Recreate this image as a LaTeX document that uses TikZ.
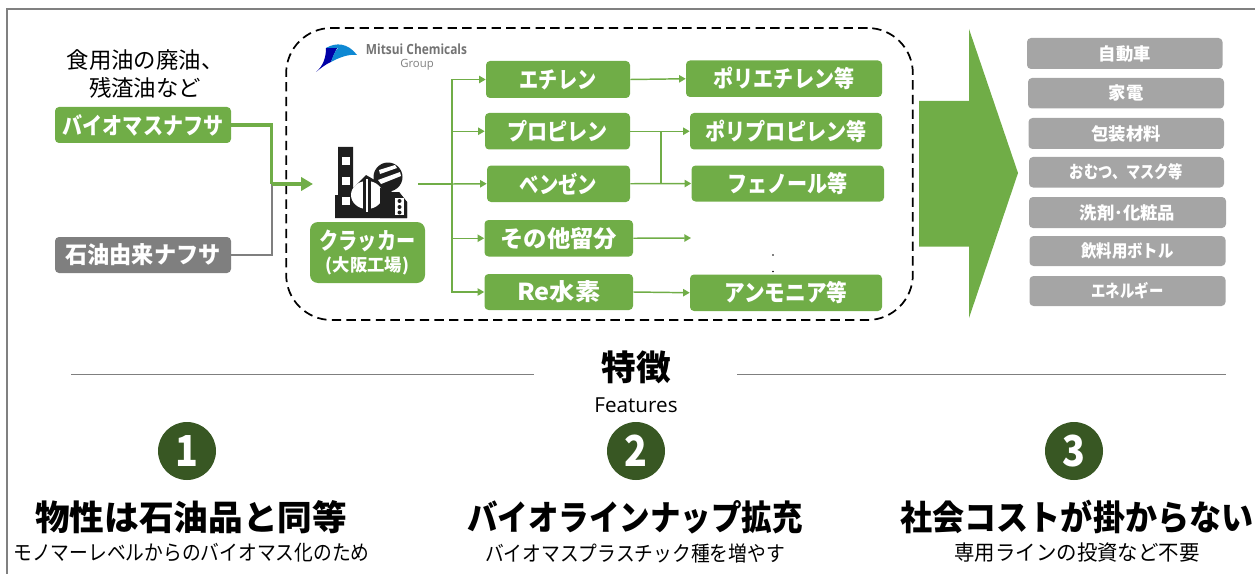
\documentclass[tikz,border=0pt]{standalone}
\usepackage{fontspec}
\setmainfont{Noto Sans CJK JP}
\newfontfamily\latinfont{Open Sans}
\usetikzlibrary{arrows.meta,shapes.geometric}
\definecolor{grn}{HTML}{70AD47}
\definecolor{dgrn}{HTML}{385723}
\definecolor{gry}{HTML}{7F7F7F}
\definecolor{lgry}{HTML}{A5A5A5}
\definecolor{ink}{HTML}{1E1E1E}
\newcommand{\sq}[2]{{\addfontfeature{FakeStretch=#1}#2}}
\newcommand{\pbox}[6]{\node[#1,minimum width={(#4-#3)*0.75pt},minimum height={(#6-#5)*0.75pt}] (#2) at ({(#3+#4)/2},{(#5+#6)/2})}
\tikzset{
  x=0.75pt,y=-0.75pt,
  gbox/.style={fill=grn,rounded corners=3pt,text=white,font=\bfseries\fontsize{17.5}{19}\selectfont,inner sep=0pt,align=center},
  gybox/.style={fill=lgry,rounded corners=3pt,text=white,font=\bfseries\fontsize{13}{14}\selectfont,inner sep=0pt},
  link/.style={draw=grn,line width=1.1pt,-{Triangle[length=5pt,width=5.5pt]}},
  plain/.style={draw=grn,line width=1.1pt},
  num/.style={circle,fill=dgrn,text=white,inner sep=0pt,minimum size=43.5pt,font=\bfseries\fontsize{32}{33}\selectfont},
  head/.style={font=\bfseries\fontsize{26}{28}\selectfont,inner sep=0pt},
  sub/.style={font=\fontsize{15.8}{18}\selectfont,inner sep=0pt},
  rule/.style={draw=gry,line width=0.8pt}
}
\begin{document}
\begin{tikzpicture}
\useasboundingbox (0,0) rectangle (1255,574);
% frame
\coordinate (fa) at (7,574); \coordinate (fb) at (7,9); \coordinate (fc) at (1255,9);
\draw[gray,line width=1.3pt] (fa) -- (fb) -- (fc);
% dashed group
\node[draw=black,line width=1.3pt,rounded corners=34pt,minimum width=470pt,minimum height=219pt,inner sep=0pt,dash pattern=on 7pt off 4pt] (grp) at (599.5,174) {};
% feedstock
\node[font=\fontsize{16.8}{21}\selectfont,align=center,inner sep=0pt] (oil) at (145,74) {食用油の廃油、\\残渣油など};
\pbox{gbox}{bio}{55}{231}{107}{143}{\sq{0.86}{バイオマスナフサ}};
\pbox{gbox,fill=gry}{oilb}{55}{231}{237}{273}{\sq{0.95}{石油由来ナフサ}};
\pbox{gbox,rounded corners=6pt}{crk}{310}{425}{222}{283}{\sq{0.82}{クラッカー}\\[-3pt]{\fontsize{13}{14}\selectfont (大阪工場)}};
% factory icon
\coordinate (ico) at (335,146);
\begin{scope}[shift={(ico)}]
\fill[ink] (0,72) -- (0,49) -- (3,49) -- (3,1) -- (18,1) -- (18,42) -- (31,29) -- (50,40) -- (57,46) -- (64,46) -- (72,56) -- (72,72) -- cycle;
\fill[ink] (53,31) circle (14.5);
\fill[white] (7,11) rectangle (15,19);
\fill[white] (7,31) rectangle (15,39);
\fill[white] (7,51) rectangle (15,59);
\fill[white] (32,49) ellipse [x radius=16,y radius=14];
\fill[ink] (28,33) rectangle (36,67);
\fill[white] (31,33) rectangle (33,66);
\fill[white] (44,24) -- (60,19) -- (62,22) -- (45,28) -- cycle;
\fill[white] (43,34) -- (65,26) -- (66,30) -- (46,38) -- cycle;
\fill[ink] (45,42) -- (57,46) -- (57,72) -- (45,72) -- cycle;
\fill[ink] (57,46) -- (64,46) -- (72,56) -- (72,72) -- (57,72) -- cycle;
\fill[white] (60,52) rectangle (69,69);
\fill[ink] (64.5,55) circle (2); \fill[ink] (64.5,61) circle (2); \fill[ink] (64.5,66.5) circle (2);
\end{scope}
% logo
\coordinate (lg) at (316,42);
\begin{scope}[shift={(lg)}]
\fill[blue!65!black] (0,30) .. controls (7,24) and (10,16) .. (10,6) .. controls (15,5) and (19,3) .. (23,3) .. controls (19,9) and (17,15) .. (15,20) .. controls (10,22) and (5,26) .. (0,30) -- cycle;
\fill[cyan!70!blue] (10,6) .. controls (20,0) and (32,1) .. (41,13) .. controls (33,12) and (24,15) .. (15,20) .. controls (17,14) and (19,9) .. (22,6) -- cycle;
\end{scope}
\node[text=black!55,font=\latinfont\bfseries\fontsize{10.5}{12}\selectfont,inner sep=0pt] (lt1) at (416.5,49) {\addfontfeature{FakeStretch=0.85}Mitsui Chemicals};
\node[text=black!50,font=\latinfont\fontsize{8.5}{10}\selectfont,inner sep=0pt] (lt2) at (417,65) {Group};
% products
\pbox{gbox}{a1}{486}{630}{61}{98}{\sq{0.82}{エチレン}};
\pbox{gbox}{a2}{485}{630}{113}{149.5}{\sq{0.86}{プロピレン}};
\pbox{gbox}{a3}{487}{630}{165.5}{202}{\sq{0.83}{ベンゼン}};
\pbox{gbox}{a4}{484.5}{633}{220}{256.5}{その他留分};
\pbox{gbox}{a5}{484.5}{633}{274}{310}{\sq{1.08}{Re水素}};
\pbox{gbox}{b1}{686}{882}{60.5}{97}{\sq{0.86}{ポリエチレン等}};
\pbox{gbox}{b2}{690}{882}{113}{149.5}{\sq{0.86}{ポリプロピレン等}};
\pbox{gbox}{b3}{691.5}{884}{165.5}{201.5}{\sq{0.86}{フェノール等}};
\pbox{gbox}{b5}{690}{882}{274.5}{311}{\sq{0.885}{アンモニア等}};
\fill[black] (773,255) circle (0.7pt);
\fill[black] (773,271.5) circle (0.7pt);
% connectors
\coordinate (j) at (271.5,184);
\coordinate (ctip) at (313,184);
\coordinate (iout) at (418,184);
\coordinate (t) at (452,184);
\draw[draw=gry,line width=1.5pt] (oilb.east) -| (j);
\draw[draw=grn,line width=2.6pt] (bio.east) -| (j);
\draw[draw=grn,line width=2.6pt,-{Triangle[length=9pt,width=10pt]}] (j) -- (ctip);
\draw[plain] (iout) -- (t);
\draw[link] (t) |- (a1.west);
\draw[link] (t) |- (a2.west);
\draw[link] (t) -- (a3.west);
\draw[link] (t) |- (a4.west);
\draw[link] (t) |- (a5.west);
\draw[link] (a1.east) -- (b1.west);
\draw[link] (a2.east) -- (b2.west);
\draw[link] (a3.east) -- (b3.west);
\coordinate (v1) at (661,131.5); \coordinate (v2) at (661,183.5);
\draw[plain] (v1) -- (v2);
\coordinate (e4) at (691,238);
\draw[link] (a4.east) -- (e4);
\draw[link] (a5.east) -- (b5.west);
% big arrow
\fill[grn] (919,101) -- (969,101) -- (969,29) -- (1018,173) -- (969,318) -- (969,246.5) -- (919,246.5) -- cycle;
% uses
\pbox{gybox}{u1}{1027}{1222.5}{38}{69}{自動車};
\pbox{gybox}{u2}{1028}{1224}{78}{108.5}{家電};
\pbox{gybox}{u3}{1028.5}{1224}{118}{149}{包装材料};
\pbox{gybox}{u4}{1029}{1224}{157}{187.5}{\sq{0.82}{おむつ、マスク等}};
\pbox{gybox}{u5}{1029}{1226}{197}{228}{洗剤･化粧品};
\pbox{gybox}{u6}{1029.5}{1225.5}{236}{266}{\sq{0.89}{飲料用ボトル}};
\pbox{gybox}{u7}{1029.5}{1225.5}{276}{306}{\sq{0.83}{エネルギー}};
% features
\node[font=\bfseries\fontsize{26}{27}\selectfont,inner sep=0pt] (tt) at (636,367) {特徴};
\node[font=\latinfont\fontsize{15.5}{18}\selectfont,inner sep=0pt] (tf) at (636,405) {Features};
\coordinate (r1) at (71,374.5); \coordinate (r2) at (534,374.5);
\coordinate (r3) at (737,374.5); \coordinate (r4) at (1226,374.5);
\draw[rule] (r1) -- (r2);
\draw[rule] (r3) -- (r4);
\node[num] (n1) at (187,451) {\sq{0.88}{1}};
\node[num] (n2) at (636,451) {\sq{0.88}{2}};
\node[num] (n3) at (1074,451) {\sq{0.88}{3}};
\node[head] (h1) at (191,517) {物性は石油品と同等};
\node[head] (h2) at (635,517) {\sq{0.88}{バイオラインナップ拡充}};
\node[head] (h3) at (1077,517) {\sq{0.925}{社会コストが掛からない}};
\node[sub] (s1) at (191.5,553) {\sq{0.89}{モノマーレベルからのバイオマス化のため}};
\node[sub] (s2) at (635,553) {\sq{0.89}{バイオマスプラスチック種を増やす}};
\node[sub] (s3) at (1077,553) {\sq{0.97}{専用ラインの投資など不要}};
\end{tikzpicture}
\end{document}
